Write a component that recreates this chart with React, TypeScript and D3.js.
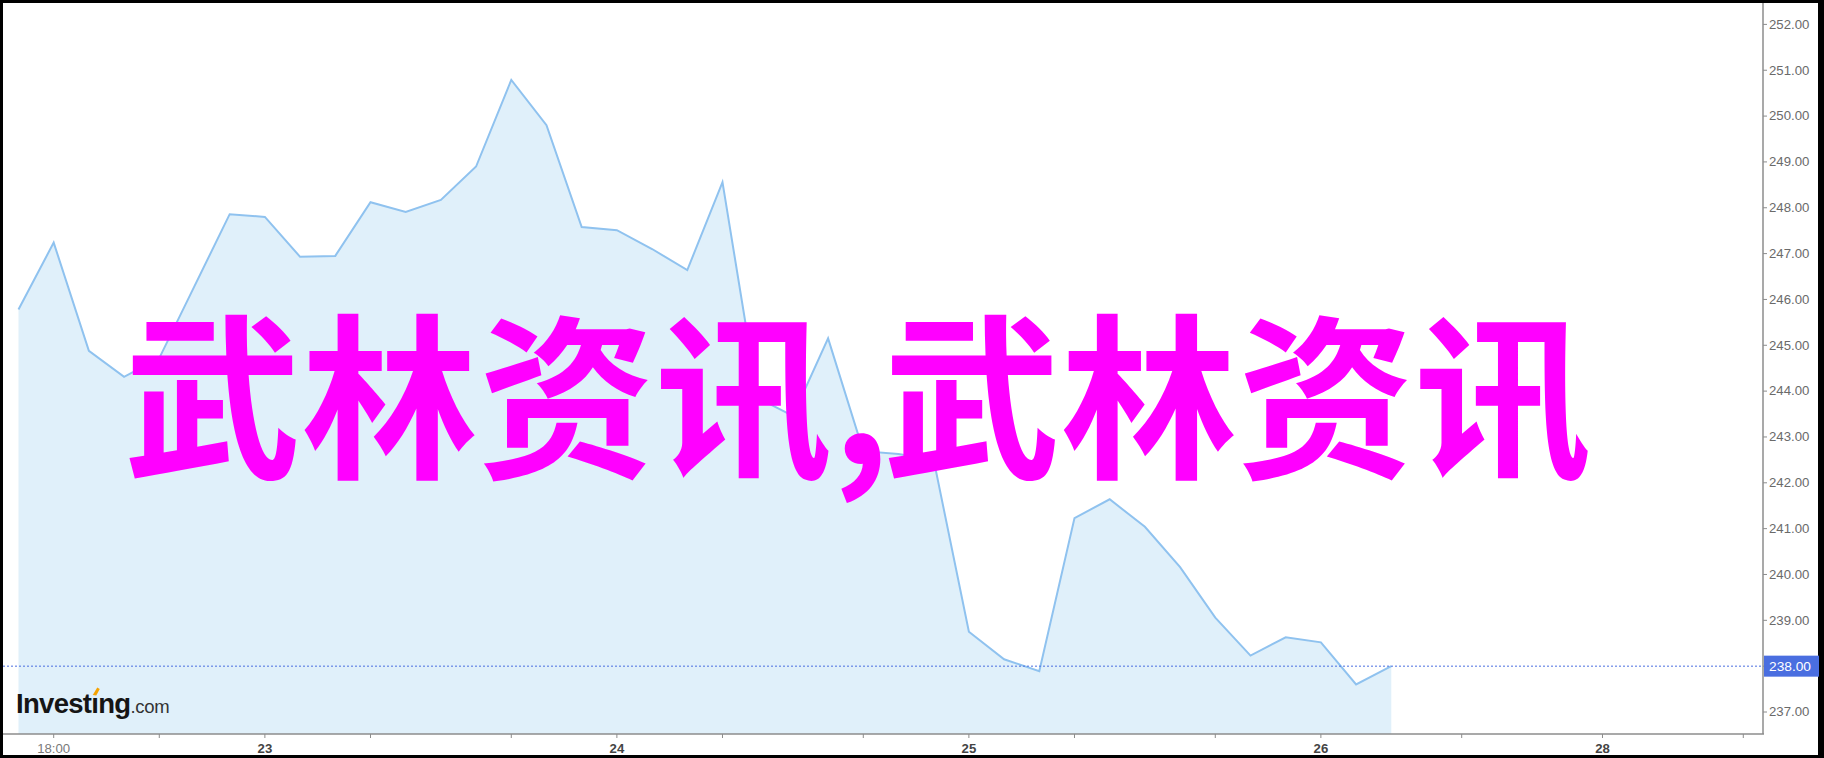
import React, { useLayoutEffect, useRef, useState } from 'react';
import * as d3 from 'd3';

// ---- data ----
const prices: number[] = [
  245.78, 247.24, 244.88, 244.31, 244.72, 246.29, 247.86, 247.8, 246.93, 246.95,
  248.12, 247.91, 248.17, 248.9, 250.79, 249.8, 247.58, 247.51, 247.1, 246.64,
  248.56, 243.85, 243.46, 245.15, 242.69, 242.63, 242.5, 238.75, 238.15, 237.89,
  241.23, 241.64, 241.04, 240.16, 239.06, 238.23, 238.63, 238.52, 237.6, 238.0,
];
const xTickIdx: number[] = [1, 4, 7, 10, 14, 17, 20, 24, 27, 30, 34, 37, 41, 45, 49];
const xTickLabelIdx: number[] = [1, 7, 17, 27, 37, 45];
const xTickLabelText: string[] = ['18:00', '23', '24', '25', '26', '28'];
const yTickValues: number[] = [237, 238, 239, 240, 241, 242, 243, 244, 245, 246, 247, 248, 249, 250, 251, 252];
const lastPrice = 238.0;
const watermark = '武林资讯,武林资讯';

const W = 1824;
const H = 758;

export default function App() {
  const plot = { left: 3, right: 1763, top: 3, bottom: 734 };
  const x = d3.scaleLinear().domain([-0.44, 49.56]).range([plot.left, plot.right]);
  const y = d3.scaleLinear().domain([237, 252]).range([712, 24.4]);

  const area = d3
    .area<number>()
    .x((_, i) => x(i))
    .y0(plot.bottom)
    .y1((d) => y(d));
  const line = d3
    .line<number>()
    .x((_, i) => x(i))
    .y((d) => y(d));

  const logoRef = useRef<SVGTextElement>(null);
  const [dot, setDot] = useState<{ x: number; w: number } | null>(null);
  useLayoutEffect(() => {
    const el = logoRef.current;
    if (el) {
      try {
        const s = el.getStartPositionOfChar(6);
        const e = el.getEndPositionOfChar(6);
        setDot({ x: s.x, w: e.x - s.x });
      } catch (err) {
        // ignore
      }
    }
  }, []);

  const font = '"Liberation Sans", Arial, sans-serif';
  const cjk = '"Noto Sans CJK SC", sans-serif';
  const axisColor = '#8c8c8c';

  return (
    <svg
      width={W}
      height={H}
      style={{ position: 'absolute', left: 0, top: 0, display: 'block' }}
      xmlns="http://www.w3.org/2000/svg"
    >
      <rect x={0} y={0} width={W} height={H} fill="#000" />
      <rect x={3} y={3} width={1815} height={752} fill="#fff" />

      {/* area + line */}
      <path d={area(prices) || ''} fill="#e0f0fa" />
      <path d={line(prices) || ''} fill="none" stroke="#8fc2ef" strokeWidth={2} strokeLinejoin="miter" />

      {/* last price dashed line */}
      <line
        x1={plot.left}
        x2={plot.right}
        y1={y(lastPrice)}
        y2={y(lastPrice)}
        stroke="#4a6ee0"
        strokeWidth={1}
        strokeDasharray="2,2"
      />

      {/* logo */}
      <text
        ref={logoRef}
        x={16}
        y={713}
        fontFamily={font}
        fontWeight={700}
        fontSize={27.5}
        letterSpacing={-0.7}
        fill="#151515"
      >
        {'Investıng'}
        <tspan fontWeight={400} fontSize={18.5} letterSpacing={-0.3} fill="#333">
          .com
        </tspan>
      </text>
      {dot && (
        <path
          d={`M${dot.x + dot.w / 2 - 2},${695} L${dot.x + dot.w / 2 + 2.5},${687.5} L${dot.x + dot.w / 2 + 5},${689} L${dot.x + dot.w / 2 + 1.5},${695.5} Z`}
          fill="#f5a200"
        />
      )}

      {/* axes */}
      <line x1={plot.left} x2={plot.right + 1} y1={plot.bottom} y2={plot.bottom} stroke={axisColor} strokeWidth={1.5} />
      <line x1={plot.right} x2={plot.right} y1={plot.top} y2={plot.bottom} stroke={axisColor} strokeWidth={1.5} />

      {xTickIdx.map((t) => (
        <line key={'xt' + t} x1={x(t)} x2={x(t)} y1={plot.bottom} y2={plot.bottom + 4} stroke={axisColor} strokeWidth={1} />
      ))}
      {xTickLabelIdx.map((t, i) => (
        <text
          key={'xl' + t}
          transform={`translate(${x(t)},${752.5}) scale(1.1,1)`}
          textAnchor="middle"
          fontFamily={font}
          fontSize={12}
          fontWeight={i === 0 ? 400 : 700}
          fill={i === 0 ? '#7a7a7a' : '#444'}
        >
          {xTickLabelText[i]}
        </text>
      ))}

      {yTickValues.map((v) => (
        <g key={'yt' + v}>
          <line x1={plot.right} x2={plot.right + 4} y1={y(v)} y2={y(v)} stroke={axisColor} strokeWidth={1} />
          <text
            transform={`translate(${plot.right + 6},${y(v) + 4.3}) scale(1.1,1)`}
            fontFamily={font}
            fontSize={12}
            fill="#6a6a6a"
          >
            {v.toFixed(2)}
          </text>
        </g>
      ))}

      {/* last price label */}
      <rect x={plot.right + 1} y={y(lastPrice) - 10.5} width={55} height={21} fill="#4a6ee0" />
      <text
        transform={`translate(${plot.right + 6},${y(lastPrice) + 4.5}) scale(1.1,1)`}
        fontFamily={font}
        fontSize={12.5}
        fill="#fff"
      >
        {lastPrice.toFixed(2)}
      </text>

      {/* watermark */}
      <text
        x={124}
        y={465}
        dx="0 0 0 0 0 -6.4 0 0 0"
        fontFamily={cjk}
        fontWeight={700}
        fontSize={177}
        fill="#ff00ff"
      >
        {watermark}
      </text>
    </svg>
  );
}
